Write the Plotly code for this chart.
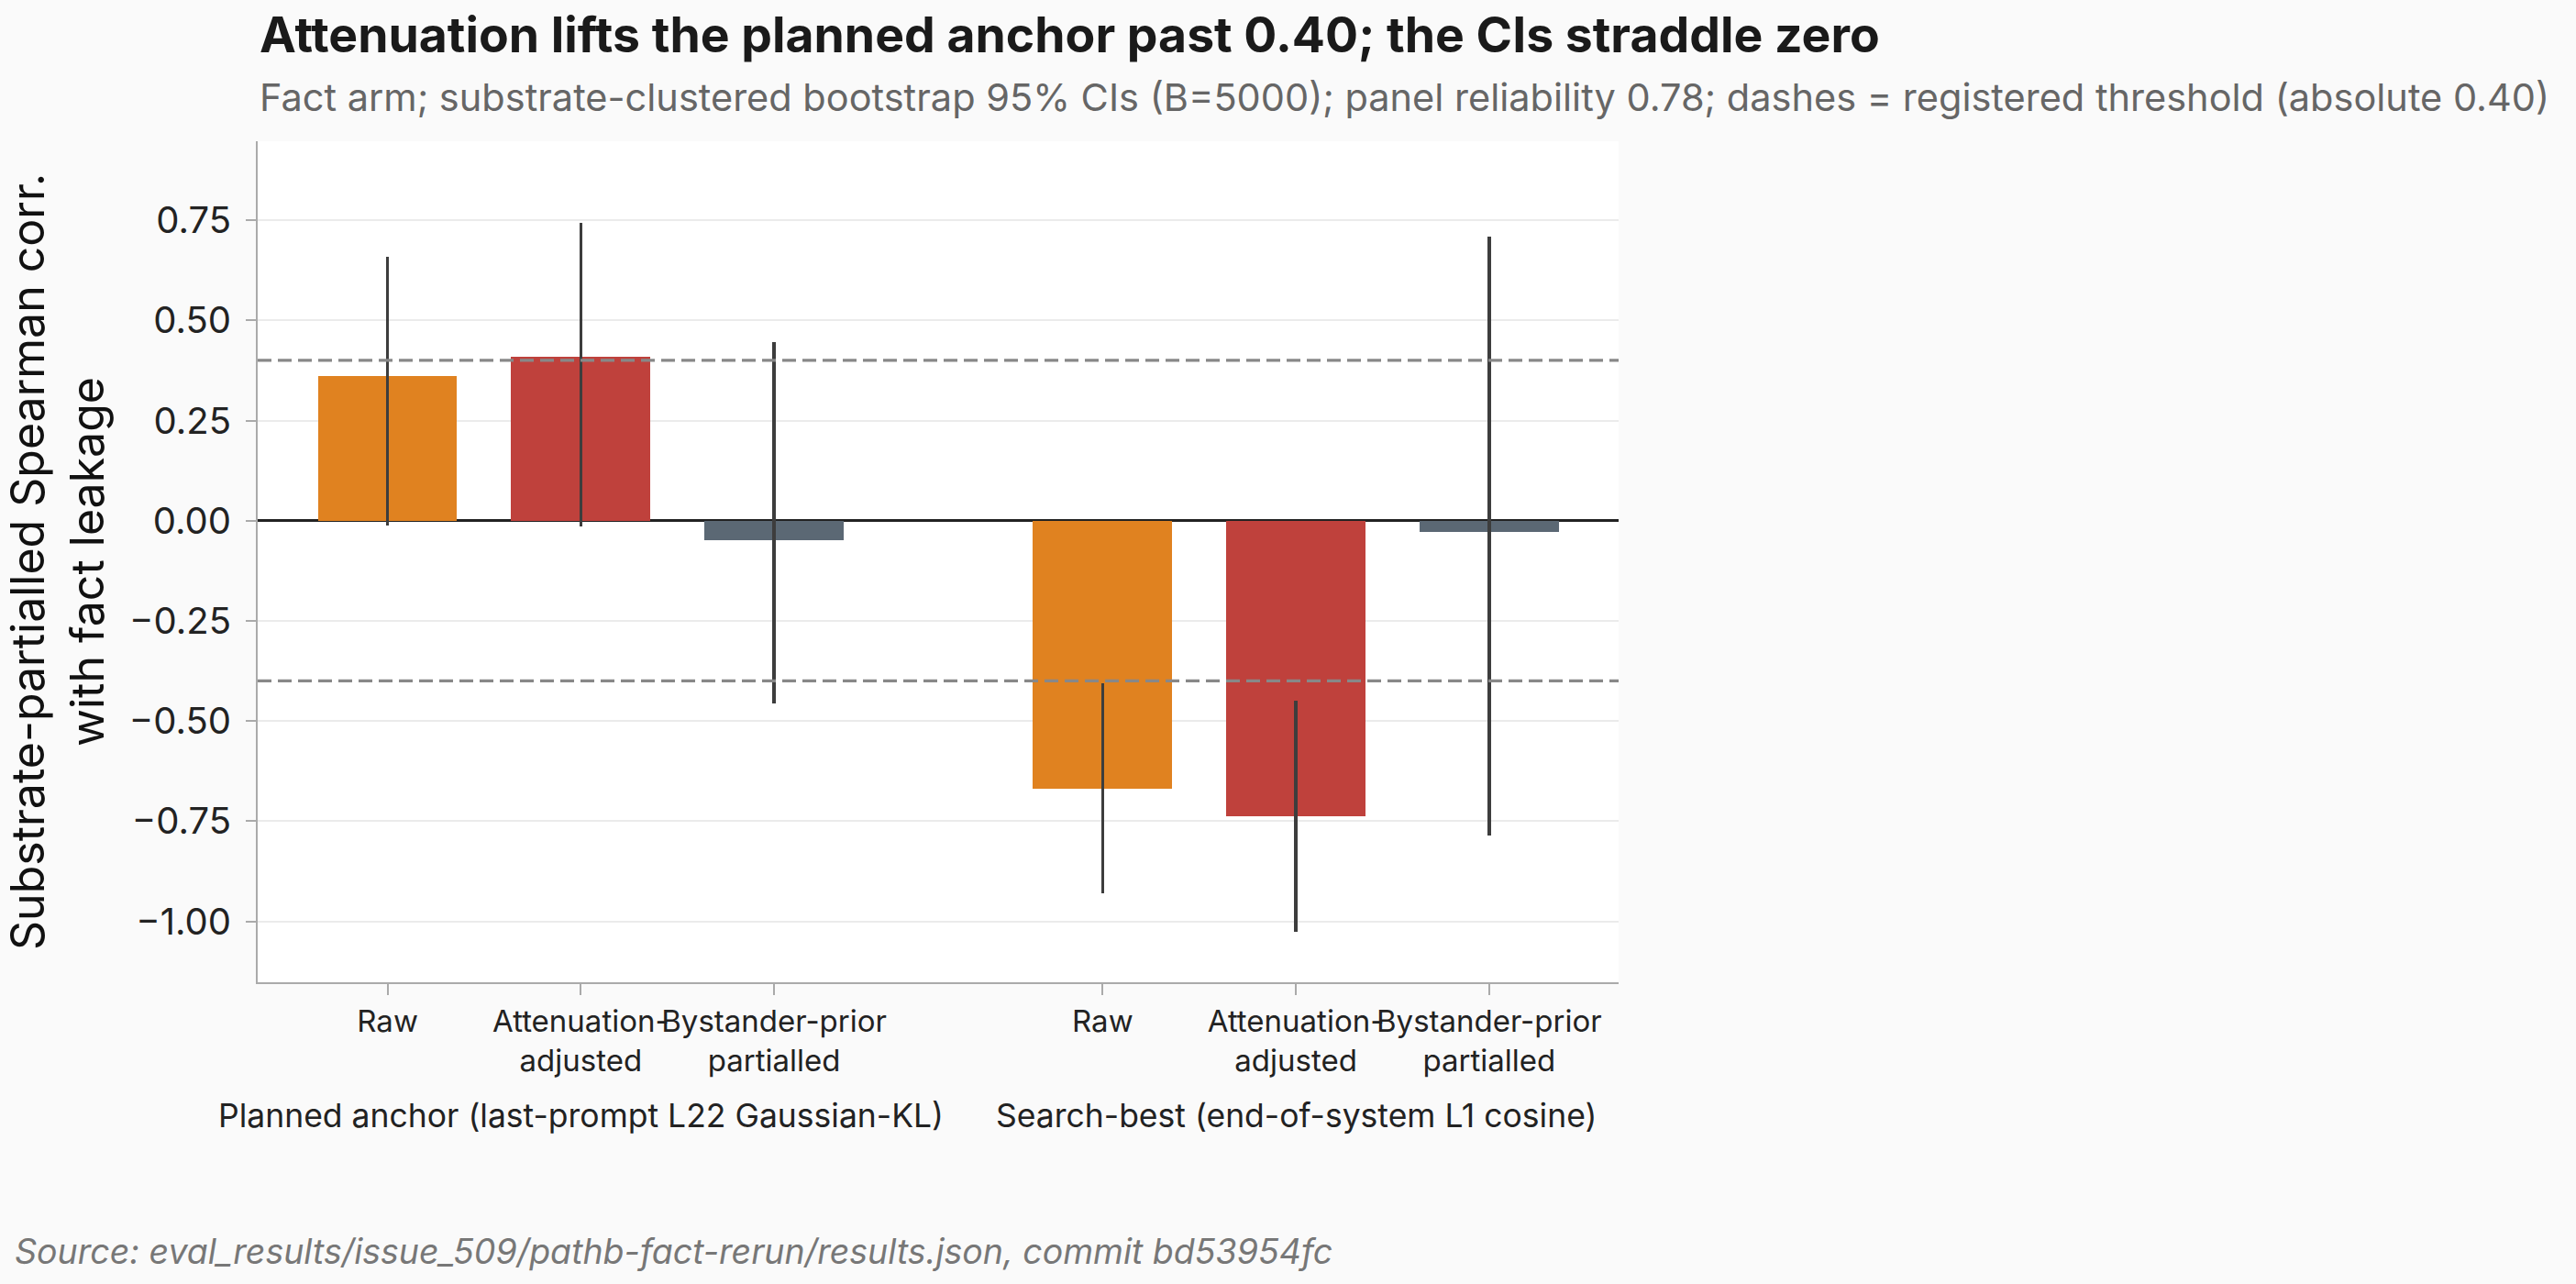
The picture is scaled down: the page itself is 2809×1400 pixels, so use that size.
import plotly.graph_objects as go

# ---- data ----
methods = ["Raw", "Attenuation-<br>adjusted", "Bystander-prior<br>partialled"]
groups = ["Planned anchor (last-prompt L22 Gaussian-KL)", "Search-best (end-of-system L1 cosine)"]
x_pos = [0, 1, 2, 3.7, 4.7, 5.7]
values = [0.361, 0.408, -0.048, -0.669, -0.737, -0.027]
ci_high = [0.658, 0.743, 0.446, -0.405, -0.449, 0.710]
ci_low = [-0.012, -0.014, -0.455, -0.930, -1.026, -0.786]
colors = ["#E08220", "#BF413C", "#5B6874"] * 2
threshold = 0.40
y_ticks = [-1.0, -0.75, -0.5, -0.25, 0.0, 0.25, 0.5, 0.75]

err_plus = [h - v for h, v in zip(ci_high, values)]
err_minus = [v - l for v, l in zip(values, ci_low)]

FONT = "Inter"
W, H = 2809, 1400
ML, MR, MT, MB = 281, 1044, 154, 329
plot_h = H - MT - MB
plot_w = W - ML - MR


def py(pix):
    return (H - MB - pix) / plot_h


fig = go.Figure()
fig.add_trace(go.Bar(
    x=x_pos, y=values, width=0.72,
    marker=dict(color=colors, line=dict(width=0)),
    error_y=dict(type="data", symmetric=False, array=err_plus, arrayminus=err_minus,
                 width=0, thickness=3.5, color="#3D3D3D"),
    showlegend=False, hoverinfo="skip",
))

for t in (threshold, -threshold):
    fig.add_shape(type="line", xref="paper", x0=0, x1=1, yref="y", y0=t, y1=t,
                  line=dict(color="#888888", width=3.2, dash="15px,7px"), layer="above")

fig.update_layout(
    width=W, height=H,
    margin=dict(l=ML, r=MR, t=MT, b=MB, autoexpand=False),
    paper_bgcolor="#FAFAFA", plot_bgcolor="#FFFFFF",
    font=dict(family=FONT, color="#222222"),
    bargap=0,
)

fig.update_xaxes(
    range=[-0.672, 6.37], tickmode="array", tickvals=x_pos, ticktext=methods * 2,
    tickangle=0, automargin=False,
    showgrid=False, zeroline=False, showline=True, linecolor="#AAAAAA", linewidth=2,
    ticks="outside", ticklen=12, tickcolor="#AAAAAA", tickwidth=2,
    tickfont=dict(family=FONT, size=33, color="#222222"),
)
fig.update_yaxes(
    range=[-1.152, 0.947], tickmode="array", tickvals=y_ticks,
    ticktext=[f"{v:.2f}".replace("-", "−") for v in y_ticks],
    automargin=False,
    showgrid=True, gridcolor="#EBEBEB", gridwidth=2,
    zeroline=True, zerolinecolor="#222222", zerolinewidth=3,
    showline=True, linecolor="#AAAAAA", linewidth=2,
    ticks="outside", ticklen=11, tickcolor="#AAAAAA", tickwidth=2,
    ticklabelstandoff=8,
    tickfont=dict(family=FONT, size=40, color="#222222"),
    title=dict(text="Substrate-partialled Spearman corr.<br>with fact leakage",
               font=dict(family=FONT, size=50, color="#111111"), standoff=36),
)

anns = [
    dict(text="<b>Attenuation lifts the planned anchor past 0.40; the CIs straddle zero</b>",
         xref="paper", yref="paper", x=0, y=py(37), xanchor="left", yanchor="middle",
         showarrow=False, font=dict(family=FONT, size=53.5, color="#1A1A1A")),
    dict(text="Fact arm; substrate-clustered bootstrap 95% CIs (B=5000); panel reliability 0.78; dashes = registered threshold (absolute 0.40)",
         xref="paper", yref="paper", x=0, y=py(106), xanchor="left", yanchor="middle",
         showarrow=False, font=dict(family=FONT, size=41.5, color="#666666")),
    dict(text=groups[0], xref="x", yref="paper", x=x_pos[1], y=py(1216),
         xanchor="center", yanchor="middle", showarrow=False,
         font=dict(family=FONT, size=35.5, color="#222222")),
    dict(text=groups[1], xref="x", yref="paper", x=x_pos[4], y=py(1216),
         xanchor="center", yanchor="middle", showarrow=False,
         font=dict(family=FONT, size=35.5, color="#222222")),
    dict(text="<i>Source: eval_results/issue_509/pathb-fact-rerun/results.json, commit bd53954fc</i>",
         xref="paper", yref="paper", x=(14 - ML) / plot_w, y=py(1365),
         xanchor="left", yanchor="middle", showarrow=False,
         font=dict(family=FONT, size=37.5, color="#777777")),
]
fig.update_layout(annotations=anns)

fig.write_html("out.html")
